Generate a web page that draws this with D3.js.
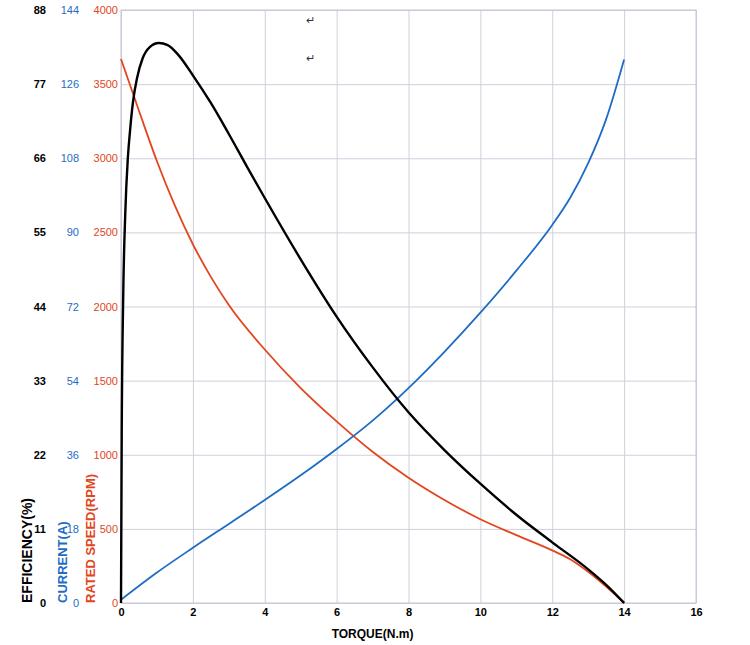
<!DOCTYPE html>
<html>
<head>
<meta charset="utf-8">
<script src="https://cdn.jsdelivr.net/npm/d3@7"></script>
<style>
  body { margin: 0; background: #fff; }
  svg { font-family: "Liberation Sans", Arial, sans-serif; }
  .grid line { stroke: #d0d0de; stroke-width: 1; }
  .grid path { display: none; }
</style>
</head>
<body>
<div id="chart"></div>
<script>
// torque axis (N.m)
const torqueTicks = [0, 2, 4, 6, 8, 10, 12, 14, 16];
const speedTicks = [0, 500, 1000, 1500, 2000, 2500, 3000, 3500, 4000];
const currentTicks = [0, 18, 36, 54, 72, 90, 108, 126, 144];
const effTicks = [0, 11, 22, 33, 44, 55, 66, 77, 88];

// rated speed (RPM) vs torque
const speedT = [0, 0.5, 1, 1.5, 2, 2.5, 3, 4, 5, 6, 7, 8, 9, 10, 11, 12, 12.5, 13, 13.5, 14];
const speedV = [3670, 3320, 2980, 2680, 2420, 2200, 2010, 1710, 1450, 1225, 1020, 845, 695, 565, 458, 355, 295, 210, 110, 0];

// current (A) vs torque
const currentT = [0, 1, 2, 3, 4, 5, 6, 7, 8, 9, 10, 11, 12, 12.5, 13, 13.5, 14];
const currentV = [0.8, 7.4, 13.4, 19.2, 25, 31, 37.4, 44.3, 52.2, 61, 70.5, 80.7, 91.8, 98.4, 106.8, 117.5, 132];

// efficiency (%) vs torque
const effT = [0, 0.02, 0.06, 0.12, 0.19, 0.25, 0.33, 0.45, 0.6, 0.8, 1.05, 1.3, 1.6, 2, 2.5, 3, 3.5, 4, 5, 6, 7, 8, 9, 10, 11, 12, 13, 13.5, 14];
const effV = [0, 25, 45, 58, 66, 70, 74.2, 78, 80.8, 82.5, 83.1, 82.8, 81.3, 78.3, 74.2, 69.6, 64.8, 60.1, 51, 42.5, 35, 28.3, 22.7, 17.7, 13.1, 9, 5, 2.7, 0];

const width = 750;
const height = 645;
const mLeft = 121, mRight = 696, mTop = 10, mBottom = 603;

const red = '#e2461d';
const blue = '#1f6cc4';

const svg = d3.select('#chart').append('svg')
  .attr('width', width).attr('height', height);

const x = d3.scaleLinear().domain([0, 16]).range([mLeft, mRight]);
const ySpeed = d3.scaleLinear().domain([0, 4000]).range([mBottom, mTop]);
const yCur = d3.scaleLinear().domain([0, 144]).range([mBottom, mTop]);
const yEff = d3.scaleLinear().domain([0, 88]).range([mBottom, mTop]);

// grid
svg.append('g')
   .attr('class', 'grid')
   .attr('transform', `translate(0, ${mBottom})`)
   .call(d3.axisBottom(x).tickValues(torqueTicks).tickSize(-(mBottom - mTop)).tickFormat(''));
svg.append('g')
   .attr('class', 'grid')
   .attr('transform', `translate(${mLeft}, 0)`)
   .call(d3.axisLeft(ySpeed).tickValues(speedTicks).tickSize(-(mRight - mLeft)).tickFormat(''));

svg.append('rect')
   .attr('x', mLeft).attr('y', mTop)
   .attr('width', mRight - mLeft).attr('height', mBottom - mTop)
   .attr('fill', 'none').attr('stroke', '#c4c4d4');

// x axis labels
svg.append('g')
   .attr('transform', `translate(0, ${mBottom + 2})`)
   .call(d3.axisBottom(x).tickValues(torqueTicks).tickSize(0).tickFormat(d3.format('d')))
   .call(g => g.select('.domain').remove())
   .selectAll('text')
   .attr('font-size', 11).attr('font-weight', 'bold').attr('fill', '#000')
   .attr('font-family', '"Liberation Sans", Arial, sans-serif');

// y axis labels
function yLabels(scale, ticks, xpos, color, weight) {
  svg.append('g')
     .attr('transform', `translate(${xpos}, 0)`)
     .call(d3.axisLeft(scale).tickValues(ticks).tickSize(0).tickPadding(0).tickFormat(d3.format('d')))
     .call(g => g.select('.domain').remove())
     .selectAll('text')
     .attr('font-size', 11).attr('font-weight', weight).attr('fill', color)
     .attr('font-family', '"Liberation Sans", Arial, sans-serif');
}
yLabels(yEff, effTicks, 46, '#000', 'bold');
yLabels(yCur, currentTicks, 79, blue, 'normal');
yLabels(ySpeed, speedTicks, 118, red, 'normal');

// axis titles
function vTitle(text, xpos, color, size) {
  svg.append('text')
     .attr('transform', `translate(${xpos}, ${mBottom}) rotate(-90)`)
     .attr('text-anchor', 'start')
     .attr('font-size', size).attr('font-weight', 'bold')
     .attr('fill', color)
     .text(text);
}
vTitle('EFFICIENCY(%)', 32, '#000', 14);
vTitle('CURRENT(A)', 67, blue, 13);
vTitle('RATED SPEED(RPM)', 95, red, 13);

svg.append('text')
   .attr('x', x(7)).attr('y', 638)
   .attr('text-anchor', 'middle')
   .attr('font-size', 12).attr('font-weight', 'bold')
   .text('TORQUE(N.m)');

// stray return marks
svg.append('text').attr('x', 306).attr('y', 24).attr('font-size', 11).attr('fill', '#333').text('↵');
svg.append('text').attr('x', 306).attr('y', 62).attr('font-size', 11).attr('fill', '#333').text('↵');

// curves
const curve = d3.curveMonotoneX;
function drawLine(ts, vs, yScale, color, w) {
  const pts = ts.map((t, i) => [t, vs[i]]);
  svg.append('path')
     .datum(pts)
     .attr('fill', 'none')
     .attr('stroke', color)
     .attr('stroke-width', w)
     .attr('d', d3.line().curve(curve).x(d => x(d[0])).y(d => yScale(d[1])));
}
drawLine(speedT, speedV, ySpeed, red, 1.8);
drawLine(currentT, currentV, yCur, blue, 1.8);
drawLine(effT, effV, yEff, '#000', 2.4);
</script>
</body>
</html>
